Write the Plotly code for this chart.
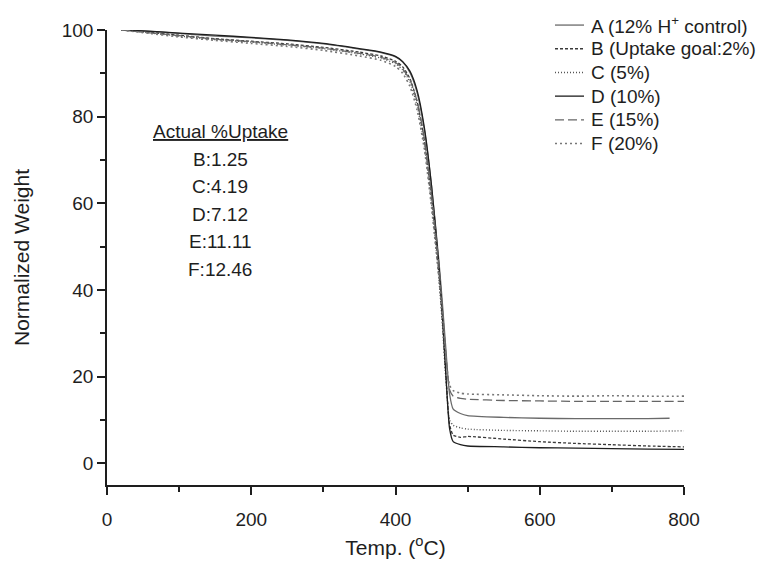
import plotly.graph_objects as go

# Temperature grid (°C)
temps = [20, 50, 100, 150, 200, 250, 300, 350, 380, 400, 410, 420, 430, 440,
         450, 460, 465, 470, 475, 480, 490, 500, 550, 600, 650, 700, 750, 800]
temps_A = temps[:-1] + [780]

# Normalized weight series
w_A = [100, 99.8, 99.2, 98.6, 98.2, 97.6, 96.8, 95.6, 94.8, 93.8, 92.6, 90.2, 85.5, 77,
       64, 47, 37, 26, 16, 12.5, 11.5, 11.0, 10.6, 10.4, 10.3, 10.3, 10.3, 10.4]
w_B = [100, 99.6, 98.8, 98.0, 97.4, 96.8, 96.0, 94.9, 94.0, 92.8, 91.5, 88.8, 83.5, 74.5,
       61, 44, 33, 20, 9, 6.5, 6.0, 6.2, 5.6, 5.0, 4.6, 4.3, 4.0, 3.8]
w_C = [100, 99.5, 98.6, 97.8, 97.2, 96.5, 95.7, 94.5, 93.5, 92.2, 90.8, 88, 82.5, 73.5,
       60, 43, 32, 19, 10, 8.8, 8.2, 7.9, 7.6, 7.5, 7.4, 7.4, 7.4, 7.5]
w_D = [100, 99.8, 99.3, 98.8, 98.3, 97.7, 96.9, 95.7, 94.9, 93.9, 92.7, 90.5, 86, 77.5,
       64, 46, 34, 20, 8, 5, 4.3, 4.0, 3.8, 3.6, 3.5, 3.4, 3.3, 3.2]
w_E = [100, 99.5, 98.7, 97.9, 97.3, 96.6, 95.8, 94.6, 93.7, 92.5, 91, 88.5, 83.5, 75,
       62, 46, 36, 25, 17, 15.5, 15, 14.8, 14.5, 14.4, 14.3, 14.3, 14.3, 14.3]
w_F = [100, 99.4, 98.4, 97.6, 96.9, 96.2, 95.3, 94.0, 93.0, 91.6, 90, 87, 81.5, 72.5,
       59, 43, 34, 24, 18, 16.8, 16.2, 16.0, 15.8, 15.6, 15.5, 15.6, 15.5, 15.5]

series_names = ["A (12% H<sup>+</sup> control)", "B (Uptake goal:2%)", "C (5%)",
                "D (10%)", "E (15%)", "F (20%)"]

uptake_labels = ["B", "C", "D", "E", "F"]
uptake_values = ["1.25", "4.19", "7.12", "11.11", "12.46"]

x_ticks = [0, 200, 400, 600, 800]
y_ticks = [0, 20, 40, 60, 80, 100]

FONT = "Liberation Sans, Arial, sans-serif"
INK = "#1e1e1e"

styles = [
    dict(color="#6a6a6a", dash="solid", width=1.3),
    dict(color="#3a3a3a", dash="3px,2px", width=1.3),
    dict(color="#555555", dash="1px,2px", width=1.4),
    dict(color="#1e1e1e", dash="solid", width=1.3),
    dict(color="#666666", dash="9px,4px", width=1.3),
    dict(color="#777777", dash="2px,3px", width=1.6),
]

data = [(temps_A, w_A), (temps, w_B), (temps, w_C), (temps, w_D), (temps, w_E), (temps, w_F)]

fig = go.Figure()
for (xs, ys), name, st in zip(data, series_names, styles):
    fig.add_trace(go.Scatter(x=xs, y=ys, mode="lines", name=name, showlegend=False,
                             line=dict(color=st["color"], dash=st["dash"], width=st["width"],
                                       shape="spline", smoothing=0.6)))

L_MARGIN, R_MARGIN, T_MARGIN, B_MARGIN = 99, 92, 16, 84
fig.update_layout(
    width=768, height=561,
    margin=dict(l=L_MARGIN, r=R_MARGIN, t=T_MARGIN, b=B_MARGIN),
    plot_bgcolor="white", paper_bgcolor="white",
    font=dict(family=FONT, size=18, color=INK),
)

fig.update_xaxes(range=[0, 800], tickvals=x_ticks, ticks="outside", ticklen=8, tickwidth=1.5,
                 tickcolor=INK, showline=True, linecolor=INK, linewidth=1.5, showgrid=False,
                 zeroline=False, ticklabelstandoff=8,
                 tickfont=dict(family=FONT, size=19, color=INK),
                 minor=dict(dtick=100, ticks="outside", ticklen=5, tickwidth=1.5, tickcolor=INK),
                 title=dict(text="Temp. (<sup>o</sup>C)", font=dict(family=FONT, size=21, color=INK),
                            standoff=12))
fig.update_yaxes(range=[-5, 100], tickvals=y_ticks, ticks="outside", ticklen=8, tickwidth=1.5,
                 tickcolor=INK, showline=True, linecolor=INK, linewidth=1.5, showgrid=False,
                 zeroline=False,
                 tickfont=dict(family=FONT, size=19, color=INK),
                 minor=dict(dtick=10, tick0=0, ticks="outside", ticklen=5, tickwidth=1.5, tickcolor=INK),
                 title=dict(text="Normalized Weight", font=dict(family=FONT, size=21, color=INK),
                            standoff=26))

# Legend drawn by hand (tight row spacing, like the original)
PLOT_H = 561 - T_MARGIN - B_MARGIN
PLOT_W = 768 - L_MARGIN - R_MARGIN
def fx(dx):  # pixels from left edge of plot area
    return dx / PLOT_W
def fy(dy):  # pixels from top edge of plot area
    return 1 - dy / PLOT_H

for i, (name, st) in enumerate(zip(series_names, styles)):
    yy = fy(-5 + 24 * i)
    fig.add_shape(type="line", xref="paper", yref="paper",
                  x0=fx(448), x1=fx(477), y0=yy, y1=yy,
                  line=dict(color=st["color"], dash=st["dash"], width=st["width"]))
    fig.add_annotation(x=fx(482), y=yy, xref="paper", yref="paper",
                       xanchor="left", yanchor="middle", text=name, showarrow=False,
                       font=dict(family=FONT, size=19, color=INK))

# Text block "Actual %Uptake"
fig.add_annotation(x=157, y=76.5, xref="x", yref="y", text="<u>Actual %Uptake</u>",
                   showarrow=False, font=dict(family=FONT, size=19, color=INK))
for i, (lab, val) in enumerate(zip(uptake_labels, uptake_values)):
    fig.add_annotation(x=157, y=70.2 - i * 6.35, xref="x", yref="y", text=f"{lab}:{val}",
                       showarrow=False, font=dict(family=FONT, size=19, color=INK))

fig.write_html("out.html")
